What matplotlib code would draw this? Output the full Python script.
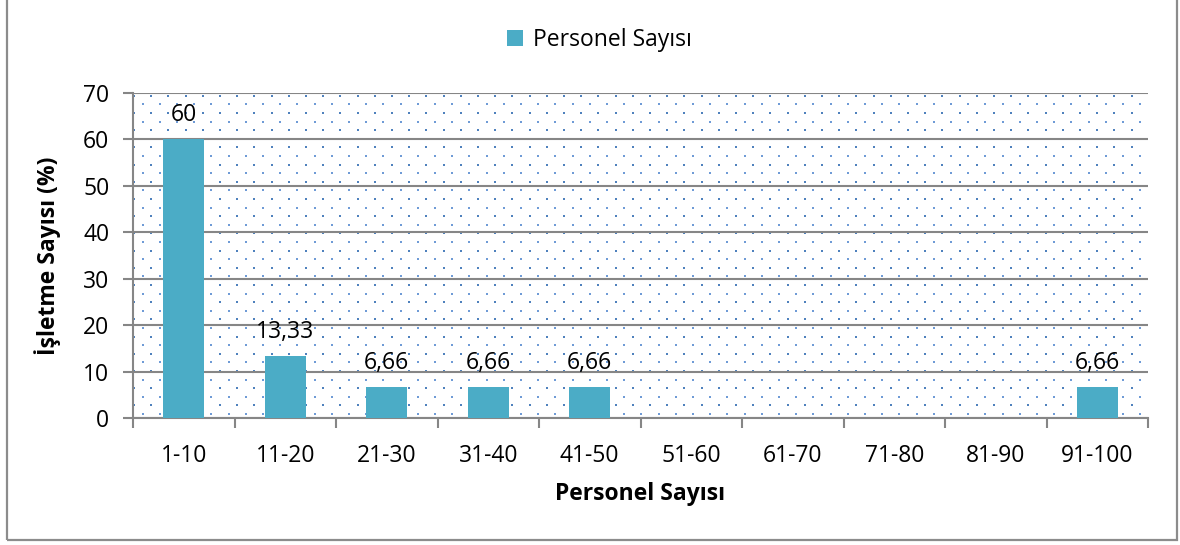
import numpy as np
import matplotlib.pyplot as plt
from matplotlib.patches import Rectangle

plt.rcParams['font.family'] = ['Open Sans', 'DejaVu Sans']

# veriler
kategoriler = ['1-10', '11-20', '21-30', '31-40', '41-50',
               '51-60', '61-70', '71-80', '81-90', '91-100']
degerler = [60, 13.33, 6.66, 6.66, 6.66, 0, 0, 0, 0, 6.66]
etiketler = ['60', '13,33', '6,66', '6,66', '6,66', '', '', '', '', '6,66']
y_ticks = [0, 10, 20, 30, 40, 50, 60, 70]

W, H = 1180, 545
fig = plt.figure(figsize=(W / 100, H / 100), dpi=100)
ax = fig.add_axes([133 / W, 1 - 418 / H, (1148 - 133) / W, (418 - 93) / H])

gri = '#868686'
bar_renk = '#4BACC6'
fs = 16.5

# noktali arka plan deseni (piksel araligi ~17px)
wpx, hpx = 1148 - 133, 418 - 93
step = 17.2
for k, yy in enumerate(np.arange(2.7, hpx, step / 2)):
    if k % 2 == 0:
        xs = np.arange(1.0, wpx, step)
        s, c = 3.5, '#4F81BD'
    else:
        xs = np.arange(1.0 + step / 2, wpx, step)
        s, c = 1.6, '#6f9bd6'
    ax.scatter(xs / wpx, np.full_like(xs, 1 - yy / hpx), s=s, marker='s',
               color=c, linewidths=0, transform=ax.transAxes, zorder=0.5,
               clip_on=True)

x = np.arange(len(kategoriler))
bars = ax.bar(x, degerler, width=0.4, color=bar_renk, zorder=3,
              label='Personel Sayısı')
for xi, v, t in zip(x, degerler, etiketler):
    if t:
        ax.annotate(t, (xi, v), xytext=(0, 9), textcoords='offset points',
                    ha='center', va='bottom', fontsize=fs, color='black',
                    zorder=4)

ax.set_xlim(-0.5, len(kategoriler) - 0.5)
ax.set_ylim(0, 70)
ax.set_yticks(y_ticks)
ax.set_xticks(x)
ax.set_xticklabels(kategoriler)
ax.set_xticks(np.arange(-0.5, len(kategoriler)), minor=True)
ax.tick_params(axis='x', which='major', length=0, pad=19, labelsize=fs)
ax.tick_params(axis='x', which='minor', length=7, width=1.5, color=gri)
ax.tick_params(axis='y', length=7, width=1.5, color=gri, pad=10,
               labelsize=fs)

ax.grid(axis='y', color=gri, linewidth=1.5, zorder=1)
ax.set_axisbelow(True)
for sp in ['top', 'right']:
    ax.spines[sp].set_visible(False)
for sp in ['left', 'bottom']:
    ax.spines[sp].set_color(gri)
    ax.spines[sp].set_linewidth(1.5)

ax.set_ylabel('İşletme Sayısı (%)', fontsize=fs, fontweight='bold',
              labelpad=16)
ax.set_xlabel('Personel Sayısı', fontsize=fs, fontweight='bold',
              labelpad=10)

fig.legend(handles=[bars], labels=['Personel Sayısı'], loc='center',
           bbox_to_anchor=(0.508, 1 - 40 / H), frameon=False, fontsize=fs,
           handlelength=0.7, handleheight=0.7, handletextpad=0.4)

# dis cerceve
fig.patches.append(Rectangle((7 / W, 1 - 540 / H), (1177 - 7) / W,
                             540 / H + 0.01, transform=fig.transFigure,
                             fill=False, edgecolor='#8c8c8c', linewidth=1.6,
                             clip_on=False))

fig.savefig('out.png', dpi=100)
